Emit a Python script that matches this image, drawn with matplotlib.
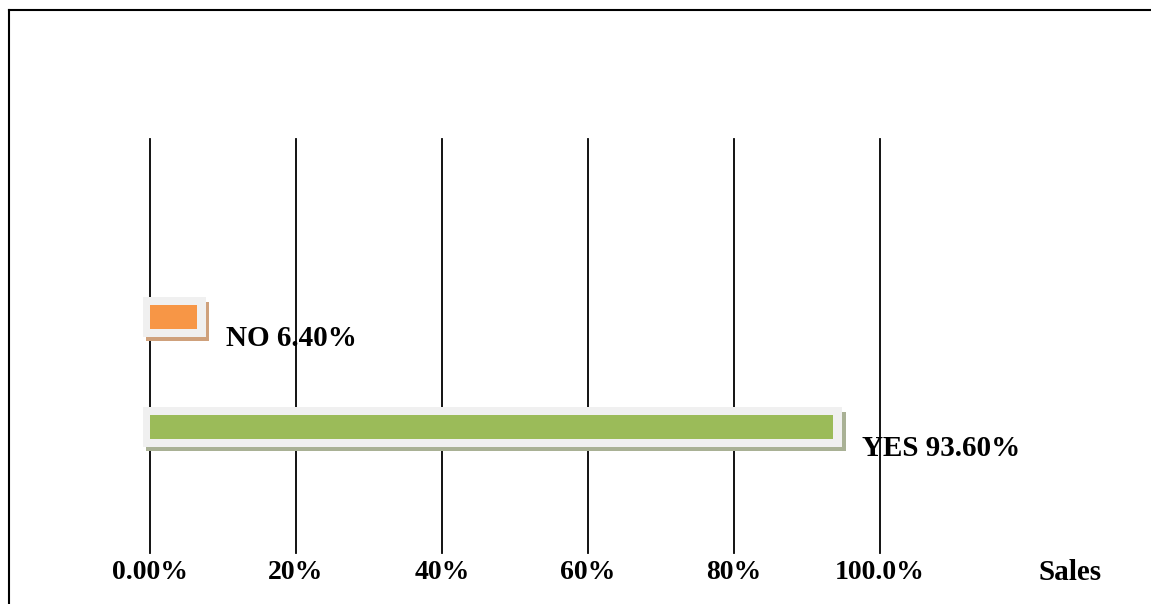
import matplotlib.pyplot as plt
from matplotlib.lines import Line2D
from matplotlib.patches import Rectangle

categories = ["YES", "NO"]
values = [93.6, 6.4]
value_labels = ["YES 93.60%", "NO 6.40%"]
tick_values = [0, 20, 40, 60, 80, 100]
tick_labels = ["0.00%", "20%", "40%", "60%", "80%", "100.0%"]
axis_title = "Sales"

bar_colors = ["#9bbb59", "#f79646"]
shadow_colors = ["#a9b195", "#cfa17c"]

plt.rcParams['font.family'] = ['Liberation Serif', 'DejaVu Serif']

fig = plt.figure(figsize=(11.51, 6.04), dpi=100)
ax = fig.add_axes([0, 0, 1, 1])
# 0% sits at x=150px, ~7.3px per percent; category rows are 110px apart
px = 7.3
ax.set_xlim(-150 / px, (1151 - 150) / px)
ax.set_ylim(-(604 - 427) / 110, 427 / 110)
ax.axis("off")

# vertical grid lines behind the bars
for t in tick_values:
    ax.axvline(t, ymin=0.085, ymax=0.77, color="black", lw=1.3, zorder=1)

pad = 7 / px
for i, (cat, v) in enumerate(zip(categories, values)):
    y = i
    h_in = 0.22
    h_out = 0.36
    # shadow
    ax.add_patch(Rectangle((-pad + 0.45, y - h_out / 2 - 0.04), v + 2 * pad + 0.3, h_out,
                           facecolor=shadow_colors[i], edgecolor="none", zorder=2))
    # light frame
    ax.add_patch(Rectangle((-pad, y - h_out / 2), v + 2 * pad + 0.3, h_out,
                           facecolor="#f0f0f0", edgecolor="none", zorder=3))
    # colored bar
    ax.barh(y, v, height=h_in, left=0, color=bar_colors[i], zorder=4)
    ax.text(v + 4.0, y - 0.2, value_labels[i], fontsize=21, fontweight="bold",
            ha="left", va="center", zorder=5)

for t, lab in zip(tick_values, tick_labels):
    ax.text(t, -1.32, lab, fontsize=20, fontweight="bold", ha="center", va="center")
ax.text(126, -1.32, axis_title, fontsize=21, fontweight="bold", ha="center", va="center")

# outer frame (left and top edges)
fig.add_artist(Line2D([8.5 / 1151, 8.5 / 1151], [0, 1 - 9.5 / 604], color="black", lw=1.5))
fig.add_artist(Line2D([8.5 / 1151, 1], [1 - 9.5 / 604, 1 - 9.5 / 604], color="black", lw=1.5))

fig.savefig("out.png", dpi=100)
